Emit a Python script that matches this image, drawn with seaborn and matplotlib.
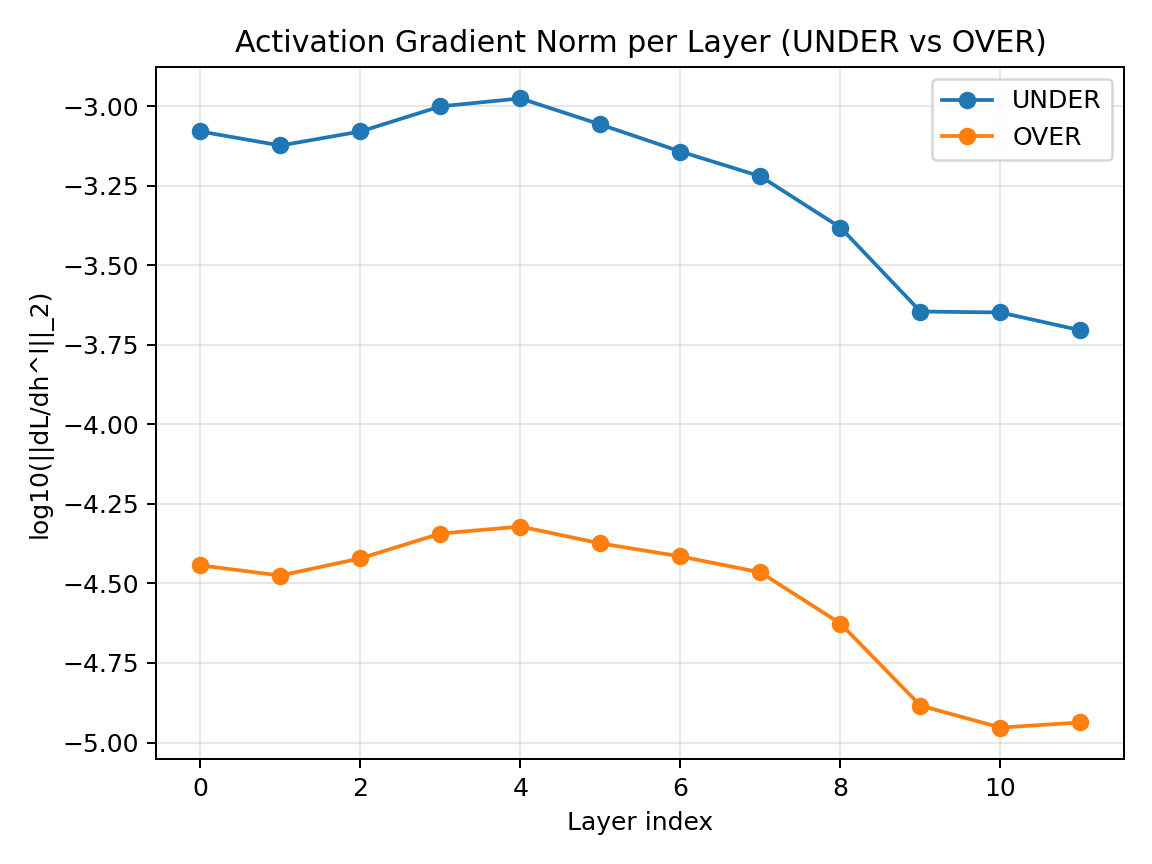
import numpy as np
import pandas as pd
import matplotlib
matplotlib.use("Agg")
import matplotlib.pyplot as plt
import seaborn as sns

# log10 of activation gradient norm per layer
layers = list(range(12))
under_vals = [-3.079, -3.123, -3.079, -3.000, -2.975, -3.057,
              -3.142, -3.220, -3.381, -3.645, -3.648, -3.704]
over_vals = [-4.443, -4.475, -4.421, -4.343, -4.321, -4.374,
             -4.415, -4.465, -4.626, -4.884, -4.953, -4.937]

df = pd.DataFrame({
    'layer': layers * 2,
    'value': under_vals + over_vals,
    'setting': ['UNDER'] * 12 + ['OVER'] * 12,
})

fig, ax = plt.subplots(figsize=(6.4, 4.8), dpi=180)

sns.lineplot(data=df, x='layer', y='value', hue='setting',
             palette=['#1f77b4', '#ff7f0e'], marker='o', markersize=7,
             markeredgewidth=0, linewidth=1.5, ax=ax)

ax.set_title('Activation Gradient Norm per Layer (UNDER vs OVER)')
ax.set_xlabel('Layer index')
ax.set_ylabel('log10(||dL/dh^l||_2)')
ax.grid(True, alpha=0.3)
ax.legend(title=None, loc='upper right')

fig.subplots_adjust(left=0.1358, right=0.9761, top=0.9225, bottom=0.1215)
plt.savefig('out.png')
plt.close()
